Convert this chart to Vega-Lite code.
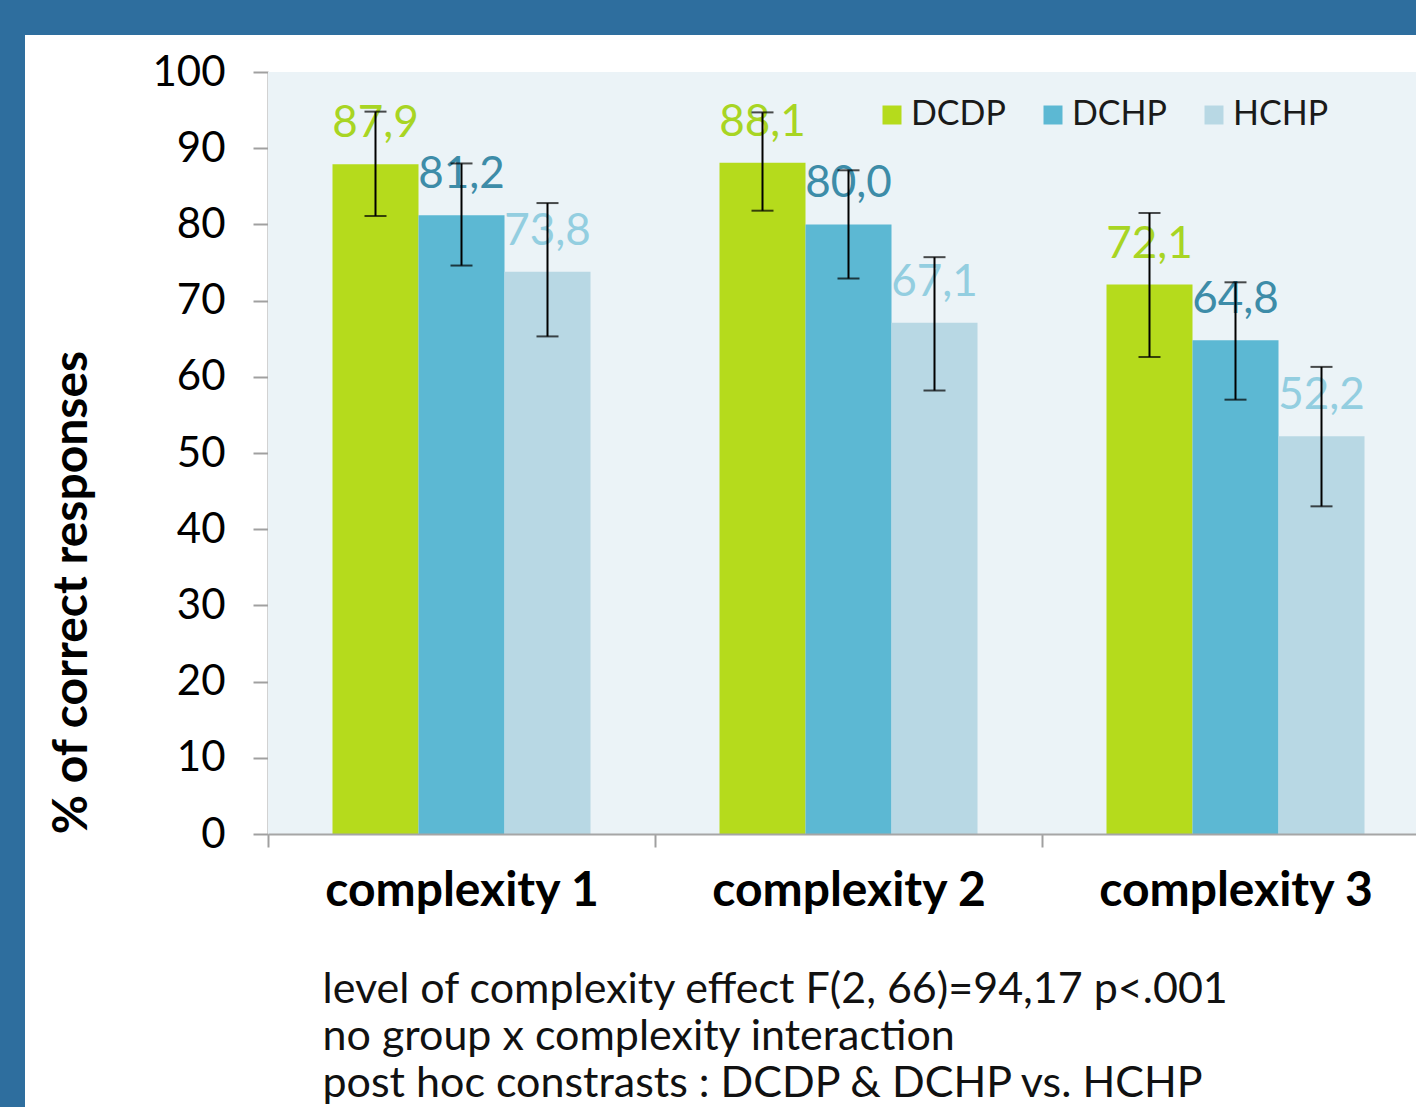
{
  "$schema": "https://vega.github.io/schema/vega-lite/v6.json",
  "width": 1391,
  "height": 1072,
  "autosize": {"type": "none"},
  "padding": {"left": 25, "top": 35, "right": 0, "bottom": 0},
  "background": "#2E6E9E",
  "config": {
    "view": {"fill": "white", "stroke": null},
    "font": "Lato",
    "locale": {"number": {"decimal": ",", "thousands": ".", "grouping": [3], "currency": ["", " €"]}}
  },
  "data": {
    "values": [
      {"complexity": "complexity 1", "group": "DCDP", "value": 87.9, "lo": 81.1, "hi": 94.8},
      {"complexity": "complexity 1", "group": "DCHP", "value": 81.2, "lo": 74.6, "hi": 88.0},
      {"complexity": "complexity 1", "group": "HCHP", "value": 73.8, "lo": 65.3, "hi": 82.8},
      {"complexity": "complexity 2", "group": "DCDP", "value": 88.1, "lo": 81.8, "hi": 94.7},
      {"complexity": "complexity 2", "group": "DCHP", "value": 80.0, "lo": 72.9, "hi": 87.1},
      {"complexity": "complexity 2", "group": "HCHP", "value": 67.1, "lo": 58.2, "hi": 75.7},
      {"complexity": "complexity 3", "group": "DCDP", "value": 72.1, "lo": 62.6, "hi": 81.5},
      {"complexity": "complexity 3", "group": "DCHP", "value": 64.8, "lo": 57.0, "hi": 72.4},
      {"complexity": "complexity 3", "group": "HCHP", "value": 52.2, "lo": 43.0, "hi": 61.3}
    ]
  },
  "encoding": {
    "x": {
      "field": "complexity",
      "type": "nominal",
      "sort": ["complexity 1", "complexity 2", "complexity 3"],
      "scale": {"range": [243, 1404], "paddingInner": 0, "paddingOuter": 0},
      "axis": {
        "orient": "bottom",
        "offset": -273,
        "labelAngle": 0,
        "labelLimit": 0,
        "labelFont": "Lato",
        "labelFontSize": 48,
        "labelFontWeight": "bold",
        "labelColor": "#000000",
        "labelPadding": 20,
        "tickBand": "extent",
        "tickSize": 13,
        "tickColor": "#A0A0A0",
        "tickWidth": 2,
        "domainColor": "#A6A6A6",
        "domainWidth": 2,
        "title": ["level of complexity effect F(2, 66)=94,17 p<.001", "no group x complexity interaction", "post hoc constrasts : DCDP & DCHP vs. HCHP"],
        "titleX": 297,
        "titleY": 168,
        "titleAlign": "left",
        "titleAnchor": "start",
        "titleBaseline": "alphabetic",
        "titleFont": "Lato",
        "titleFontSize": 43,
        "titleFontWeight": "normal",
        "titleColor": "#111111",
        "titleLineHeight": 47,
        "titleLimit": 0
      }
    }
  },
  "layer": [
    {
      "mark": {"type": "rect", "color": "#EBF3F7"},
      "encoding": {
        "y": {"datum": 100, "type": "quantitative", "scale": {"domain": [0, 100], "range": [799, 37]}},
        "y2": {"datum": 0}
      }
    },
    {
      "mark": {"type": "bar"},
      "encoding": {
        "xOffset": {"field": "group", "type": "nominal", "scale": {"paddingOuter": 0.75, "paddingInner": 0}},
        "y": {
          "field": "value",
          "type": "quantitative",
          "scale": {"domain": [0, 100], "range": [799, 37]},
          "axis": {
            "offset": -243,
            "values": [0, 10, 20, 30, 40, 50, 60, 70, 80, 90, 100],
            "grid": false,
            "labelFont": "Lato",
            "labelFontSize": 42,
            "labelColor": "#000000",
            "labelPadding": 28,
            "tickSize": 15,
            "tickColor": "#A0A0A0",
            "tickWidth": 2,
            "domainColor": "#A6A6A6",
            "domainWidth": 2,
            "title": "% of correct responses",
            "titleX": -196,
            "titleY": 557,
            "titleAngle": -90,
            "titleAlign": "center",
            "titleBaseline": "middle",
            "titleFont": "Lato",
            "titleFontSize": 48,
            "titleFontWeight": "bold",
            "titleColor": "#000000",
            "titleLimit": 0
          }
        },
        "color": {
          "field": "group",
          "type": "nominal",
          "scale": {"domain": ["DCDP", "DCHP", "HCHP"], "range": ["#B5DB1C", "#5CB8D3", "#B8D8E4"]},
          "legend": {
            "orient": "none",
            "legendX": 850,
            "legendY": 63,
            "direction": "horizontal",
            "title": null,
            "symbolType": "square",
            "symbolSize": 361,
            "symbolStrokeWidth": 0,
            "labelFont": "Lato",
            "labelFontSize": 34,
            "labelColor": "#1A1A1A",
            "labelOffset": 2,
            "columnPadding": 30
          }
        }
      }
    },
    {
      "mark": {"type": "text", "baseline": "alphabetic", "align": "center", "dy": -27, "fontSize": 44, "font": "Lato"},
      "encoding": {
        "xOffset": {"field": "group", "type": "nominal", "scale": {"paddingOuter": 0.75, "paddingInner": 0}},
        "y": {"field": "value", "type": "quantitative"},
        "text": {"field": "value", "type": "quantitative", "format": ".1f"},
        "color": {
          "condition": [
            {"test": "datum.group === 'DCDP'", "value": "#A8D523"},
            {"test": "datum.group === 'DCHP'", "value": "#3D8CA8"}
          ],
          "value": "#93CEE0"
        }
      }
    },
    {
      "mark": {"type": "rule", "color": "#000000", "strokeWidth": 2},
      "encoding": {
        "xOffset": {"field": "group", "type": "nominal", "scale": {"paddingOuter": 0.75, "paddingInner": 0}},
        "y": {"field": "lo", "type": "quantitative"},
        "y2": {"field": "hi"}
      }
    },
    {
      "mark": {"type": "tick", "color": "#000000", "size": 22, "thickness": 2, "orient": "horizontal"},
      "encoding": {
        "xOffset": {"field": "group", "type": "nominal", "scale": {"paddingOuter": 0.75, "paddingInner": 0}},
        "y": {"field": "lo", "type": "quantitative"}
      }
    },
    {
      "mark": {"type": "tick", "color": "#000000", "size": 22, "thickness": 2, "orient": "horizontal"},
      "encoding": {
        "xOffset": {"field": "group", "type": "nominal", "scale": {"paddingOuter": 0.75, "paddingInner": 0}},
        "y": {"field": "hi", "type": "quantitative"}
      }
    }
  ]
}
